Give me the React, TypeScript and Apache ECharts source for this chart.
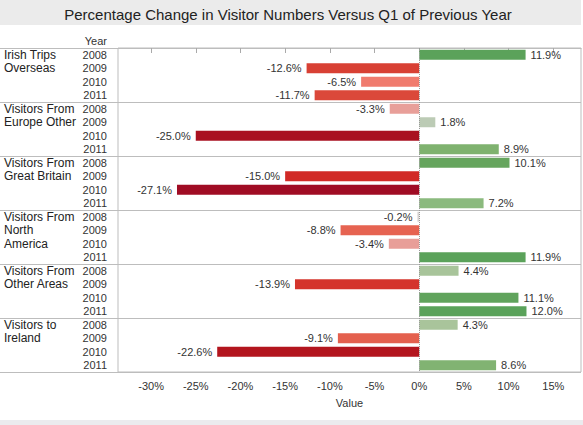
import React, { useEffect, useRef } from "react";
import * as echarts from "echarts";

const groups = [
  "Irish Trips\nOverseas",
  "Visitors From\nEurope Other",
  "Visitors From\nGreat Britain",
  "Visitors From\nNorth\nAmerica",
  "Visitors From\nOther Areas",
  "Visitors to\nIreland",
];
const years = ["2008", "2009", "2010", "2011"];

const irishTripsOverseas = [11.9, -12.6, -6.5, -11.7];
const visitorsEuropeOther = [-3.3, 1.8, -25.0, 8.9];
const visitorsGreatBritain = [10.1, -15.0, -27.1, 7.2];
const visitorsNorthAmerica = [-0.2, -8.8, -3.4, 11.9];
const visitorsOtherAreas = [4.4, -13.9, 11.1, 12.0];
const visitorsToIreland = [4.3, -9.1, -22.6, 8.6];

const xTicks = [-30, -25, -20, -15, -10, -5, 0, 5, 10, 15];

const FONT = 'Arial, "Liberation Sans", sans-serif';

const redStops: [number, string][] = [
  [0, "#d4d4d4"],
  [0.12, "#e8a09a"],
  [0.24, "#f07b6e"],
  [0.33, "#e5614f"],
  [0.45, "#d94436"],
  [0.55, "#d12a26"],
  [0.83, "#b3151e"],
  [1, "#a00c24"],
];
const greenStops: [number, string][] = [
  [0, "#d0d0d0"],
  [0.15, "#bccbb5"],
  [0.37, "#a8c49a"],
  [0.6, "#8bba7e"],
  [0.74, "#7fb26f"],
  [0.84, "#66a55e"],
  [1, "#5aa25a"],
];

function hexToRgb(h: string) {
  const n = parseInt(h.slice(1), 16);
  return [(n >> 16) & 255, (n >> 8) & 255, n & 255];
}
function interp(stops: [number, string][], t: number) {
  t = Math.max(0, Math.min(1, t));
  for (let i = 1; i < stops.length; i++) {
    if (t <= stops[i][0]) {
      const [t0, c0] = stops[i - 1];
      const [t1, c1] = stops[i];
      const f = (t - t0) / (t1 - t0 || 1);
      const a = hexToRgb(c0);
      const b = hexToRgb(c1);
      const r = a.map((v, k) => Math.round(v + (b[k] - v) * f));
      return `rgb(${r[0]},${r[1]},${r[2]})`;
    }
  }
  return stops[stops.length - 1][1];
}
function colorFor(v: number) {
  return v < 0 ? interp(redStops, -v / 27.1) : interp(greenStops, v / 12.0);
}

export default function App() {
  const ref = useRef<HTMLDivElement>(null);
  useEffect(() => {
    if (!ref.current) return;
    const chart = echarts.init(ref.current, null, { renderer: "svg" });
    const all = [
      irishTripsOverseas,
      visitorsEuropeOther,
      visitorsGreatBritain,
      visitorsNorthAmerica,
      visitorsOtherAreas,
      visitorsToIreland,
    ];
    const cats: string[] = [];
    const data: any[] = [];
    all.forEach((arr, gi) => {
      arr.forEach((v, yi) => {
        cats.push(groups[gi] + "|" + years[yi]);
        data.push({
          value: v,
          itemStyle: { color: colorFor(v) },
          label: { position: v < 0 ? "left" : "right" },
        });
      });
    });
    const lineColor = "#bdbdbd";
    chart.setOption({
      animation: false,
      backgroundColor: "#ffffff",
      textStyle: { fontFamily: FONT },
      graphic: [
        { type: "rect", left: 0, top: 0, shape: { width: 581, height: 25 }, style: { fill: "#ebebeb" }, silent: true },
        { type: "rect", left: 0, top: 420, shape: { width: 583, height: 5 }, style: { fill: "#ebebee" }, silent: true },
        {
          type: "text",
          x: 288,
          y: 14,
          style: {
            text: "Percentage Change in Visitor Numbers Versus Q1 of Previous Year",
            fill: "#222",
            font: `15px ${FONT}`,
            textAlign: "center",
            textVerticalAlign: "middle",
          },
        },
        {
          type: "text",
          x: 107,
          y: 41,
          style: { text: "Year", fill: "#333", font: `11px ${FONT}`, textAlign: "right", textVerticalAlign: "middle" },
        },
      ],
      grid: {
        left: 118,
        right: 2,
        top: 48,
        bottom: 53,
        show: true,
        borderColor: lineColor,
        borderWidth: 1,
        backgroundColor: "transparent",
      },
      xAxis: {
        type: "value",
        min: -33.7,
        max: 18.1,
        name: "Value",
        nameLocation: "middle",
        nameGap: 25,
        nameTextStyle: { fontSize: 11, color: "#333", fontFamily: FONT },
        axisLine: { show: true, lineStyle: { color: lineColor } },
        axisTick: { show: true, length: 5, customValues: xTicks, lineStyle: { color: "#aaa" } },
        axisLabel: {
          customValues: xTicks,
          formatter: (v: number) => `${v}%`,
          fontSize: 11,
          color: "#333",
          margin: 8,
          fontFamily: FONT,
        },
        splitLine: { show: false },
      },
      yAxis: [
        {
          type: "category",
          data: cats,
          inverse: true,
          axisLine: { show: false },
          axisTick: { show: false },
          axisLabel: {
            interval: 0,
            formatter: (_v: string, idx: number) => years[idx % 4],
            fontSize: 11,
            color: "#333",
            margin: 11,
            fontFamily: FONT,
          },
        },
        {
          type: "value",
          min: 0,
          max: 6,
          interval: 1,
          inverse: true,
          position: "left",
          axisLine: { show: false },
          axisTick: { show: true, length: 118, lineStyle: { color: lineColor } },
          splitLine: { show: true, lineStyle: { color: lineColor } },
          axisLabel: {
            formatter: (v: number) => (v < 6 ? groups[v] : ""),
            align: "left",
            verticalAlign: "top",
            margin: 114,
            lineHeight: 13.5,
            fontSize: 12,
            color: "#222",
            fontFamily: FONT,
          },
        },
      ],
      series: [
        {
          type: "bar",
          xAxisIndex: 0,
          yAxisIndex: 0,
          data,
          barWidth: 10,
          label: {
            show: true,
            distance: 5,
            fontSize: 11,
            color: "#333",
            fontFamily: FONT,
            formatter: (p: any) => `${Number(p.value).toFixed(1)}%`,
          },
          markLine: {
            silent: true,
            symbol: "none",
            label: { show: false },
            lineStyle: { type: "dotted", color: "#999", width: 1 },
            data: [{ xAxis: 0 }],
          },
        },
      ],
    });
    return () => chart.dispose();
  }, []);
  return (
    <div style={{ position: "absolute", left: 0, top: 0 }}>
      <div ref={ref} style={{ width: 583, height: 425 }} />
    </div>
  );
}
